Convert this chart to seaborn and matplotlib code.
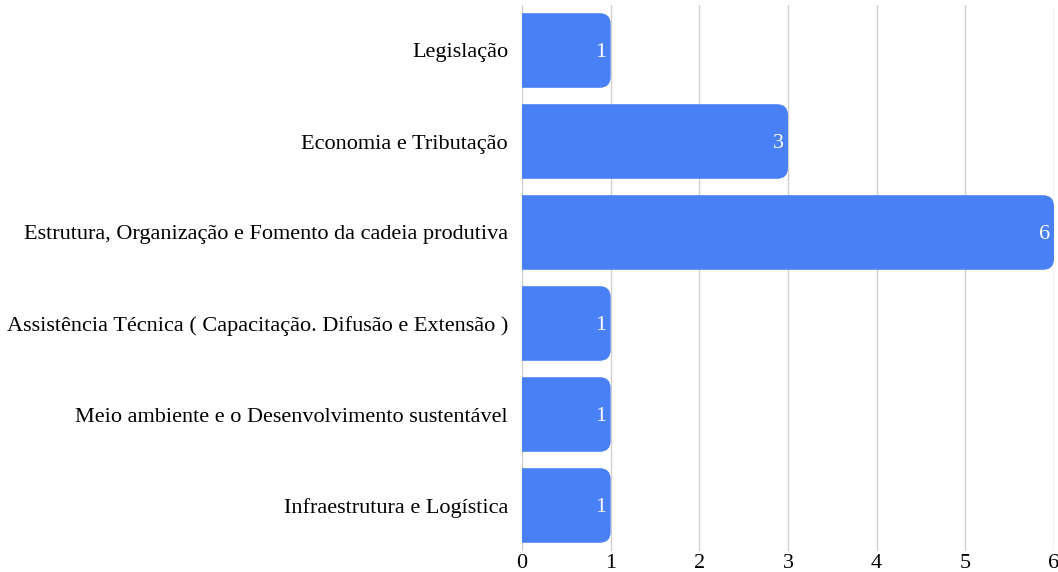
import matplotlib
matplotlib.use("Agg")
import matplotlib.pyplot as plt
import seaborn as sns
import pandas as pd
from matplotlib.patches import FancyBboxPatch

# dados
categorias = [
    "Legislação",
    "Economia e Tributação",
    "Estrutura, Organização e Fomento da cadeia produtiva",
    "Assistência Técnica ( Capacitação. Difusão e Extensão )",
    "Meio ambiente e o Desenvolvimento sustentável",
    "Infraestrutura e Logística",
]
valores = [1, 3, 6, 1, 1, 1]
ticks_x = [0, 1, 2, 3, 4, 5, 6]

cor = "#4a80f5"

df = pd.DataFrame({"categoria": categorias, "valor": valores})

sns.set_style("white")
plt.rcParams["font.family"] = ["Liberation Serif", "DejaVu Serif"]

fig = plt.figure(figsize=(10.58, 5.72), dpi=100)
ax = fig.add_axes([522 / 1058, 21 / 572, 532 / 1058, 546 / 572])

sns.barplot(data=df, y="categoria", x="valor", color=cor, width=0.82,
            orient="h", ax=ax, saturation=1)

# troca as barras por barras com cantos arredondados à direita
# (o canto esquerdo fica fora do eixo e é cortado)
px_x = 532 / 6
px_y = 546 / 6
raio = 11 / px_x
for p in list(ax.patches):
    x, y = p.get_x(), p.get_y()
    w, h = p.get_width(), p.get_height()
    p.remove()
    ax.add_patch(FancyBboxPatch((x - 3 * raio, y), w + 3 * raio, h,
                                boxstyle=f"round,pad=0,rounding_size={raio}",
                                mutation_aspect=px_x / px_y,
                                facecolor=cor, edgecolor="none",
                                linewidth=0, zorder=2))

for i, v in enumerate(valores):
    ax.text(v - 0.045, i + 0.02, str(v), color="white", ha="right",
            va="center", fontsize=16, zorder=3)

ax.set_xlim(0, 6)
ax.set_xticks(ticks_x)
ax.grid(axis="x", color="#d0d0d0", linewidth=1, zorder=0)
ax.set_axisbelow(True)
for s in ax.spines.values():
    s.set_visible(False)
ax.tick_params(axis="both", length=0, labelsize=16, colors="black")
ax.tick_params(axis="y", pad=10)
ax.tick_params(axis="x", pad=2)
ax.set_xlabel("")
ax.set_ylabel("")

fig.savefig("out.png", dpi=100)
